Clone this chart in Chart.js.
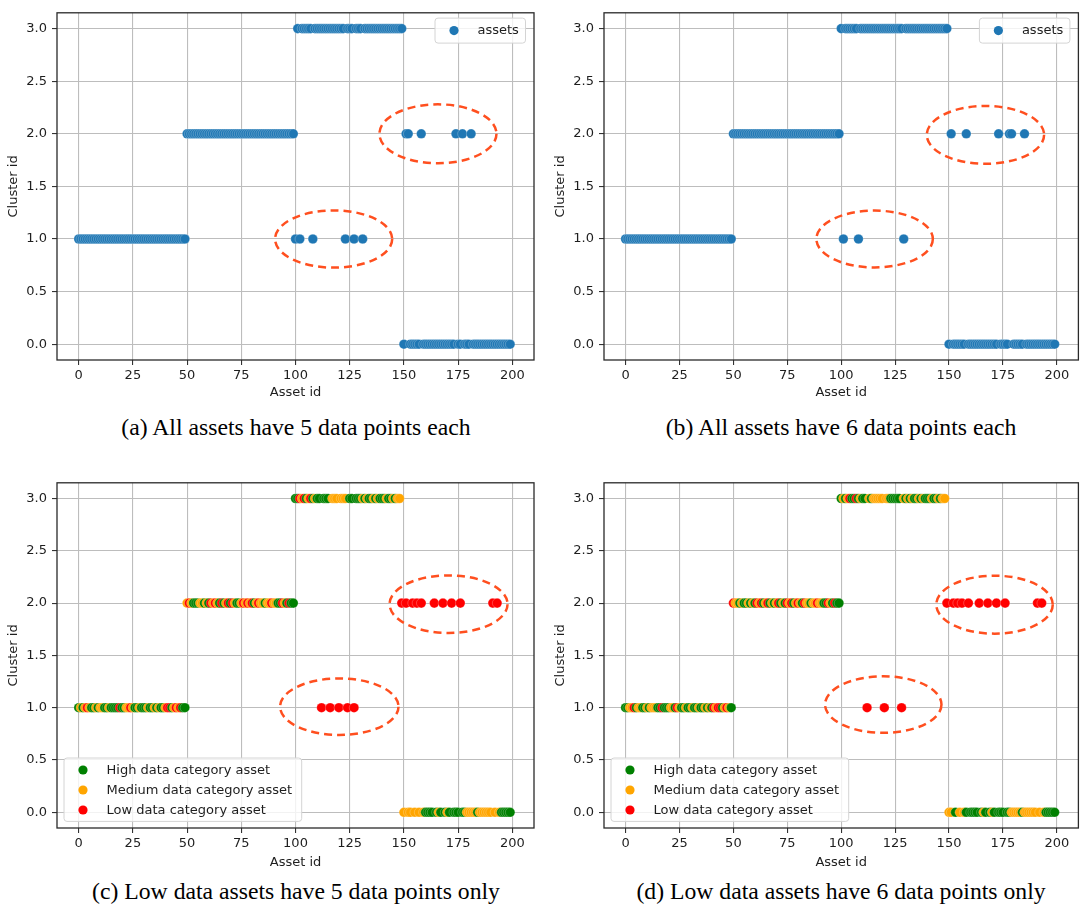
<!DOCTYPE html>
<html>
<head>
<meta charset="utf-8">
<script src="https://cdn.jsdelivr.net/npm/chart.js@4.4.1/dist/chart.umd.min.js"></script>
<style>
html,body{margin:0;padding:0;background:#fff;}
body{width:1084px;height:911px;position:relative;overflow:hidden;}
canvas{position:absolute;}
.cap{position:absolute;width:480px;text-align:center;font-family:"Liberation Serif","Times New Roman",serif;font-size:23.7px;line-height:24px;color:#000;white-space:nowrap;}
</style>
</head>
<body>
<canvas id="ca" width="540" height="405" style="left:0px;top:0px;width:540px;height:405px"></canvas>
<canvas id="cb" width="544" height="405" style="left:540px;top:0px;width:544px;height:405px"></canvas>
<canvas id="cc" width="540" height="405" style="left:0px;top:470px;width:540px;height:405px"></canvas>
<canvas id="cd" width="544" height="405" style="left:540px;top:470px;width:544px;height:405px"></canvas>
<div class="cap" style="left:56px;top:415px">(a) All assets have 5 data points each</div>
<div class="cap" style="left:601px;top:415px">(b) All assets have 6 data points each</div>
<div class="cap" style="left:56px;top:879px">(c) Low data assets have 5 data points only</div>
<div class="cap" style="left:601px;top:879px">(d) Low data assets have 6 data points only</div>
<script>
// ---------------- DATA (index of each entry = asset id 0..199) ----------------
const xTitle = 'Asset id';
const yTitle = 'Cluster id';
const legendAssets = ['assets'];
const legendCategories = ['High data category asset', 'Medium data category asset', 'Low data category asset'];

// (a) cluster id per asset
const clusterA = [
 1,1,1,1,1,1,1,1,1,1, 1,1,1,1,1,1,1,1,1,1, 1,1,1,1,1,1,1,1,1,1, 1,1,1,1,1,1,1,1,1,1, 1,1,1,1,1,1,1,1,1,1,
 2,2,2,2,2,2,2,2,2,2, 2,2,2,2,2,2,2,2,2,2, 2,2,2,2,2,2,2,2,2,2, 2,2,2,2,2,2,2,2,2,2, 2,2,2,2,2,2,2,2,2,2,
 1,3,1,3,3,3,3,3,1,3, 3,3,3,3,3,3,3,3,3,3, 3,3,3,1,3,3,3,1,3,3, 3,1,3,3,3,3,3,3,3,3, 3,3,3,3,3,3,3,3,3,3,
 0,2,2,0,0,0,0,0,2,0, 0,0,0,0,0,0,0,0,0,0, 0,0,0,0,2,0,0,2,0,0, 0,2,0,0,0,0,0,0,0,0, 0,0,0,0,0,0,0,0,0,0
];
// (b) cluster id per asset
const clusterB = [
 1,1,1,1,1,1,1,1,1,1, 1,1,1,1,1,1,1,1,1,1, 1,1,1,1,1,1,1,1,1,1, 1,1,1,1,1,1,1,1,1,1, 1,1,1,1,1,1,1,1,1,1,
 2,2,2,2,2,2,2,2,2,2, 2,2,2,2,2,2,2,2,2,2, 2,2,2,2,2,2,2,2,2,2, 2,2,2,2,2,2,2,2,2,2, 2,2,2,2,2,2,2,2,2,2,
 3,1,3,3,3,3,3,3,1,3, 3,3,3,3,3,3,3,3,3,3, 3,3,3,3,3,3,3,3,3,1, 3,3,3,3,3,3,3,3,3,3, 3,3,3,3,3,3,3,3,3,3,
 0,2,0,0,0,0,0,0,2,0, 0,0,0,0,0,0,0,0,0,0, 0,0,0,2,0,0,0,0,2,2, 0,0,0,0,0,2,0,0,0,0, 0,0,0,0,0,0,0,0,0,0
];
// (c) cluster id per asset
const clusterC = [
 1,1,1,1,1,1,1,1,1,1, 1,1,1,1,1,1,1,1,1,1, 1,1,1,1,1,1,1,1,1,1, 1,1,1,1,1,1,1,1,1,1, 1,1,1,1,1,1,1,1,1,1,
 2,2,2,2,2,2,2,2,2,2, 2,2,2,2,2,2,2,2,2,2, 2,2,2,2,2,2,2,2,2,2, 2,2,2,2,2,2,2,2,2,2, 2,2,2,2,2,2,2,2,2,2,
 3,3,3,3,3,3,3,3,3,3, 3,3,1,3,3,3,1,3,3,3, 1,3,3,3,1,3,3,1,3,3, 3,3,3,3,3,3,3,3,3,3, 3,3,3,3,3,3,3,3,3,2,
 0,2,0,0,2,0,2,0,2,0, 0,0,0,0,2,0,0,0,2,0, 0,0,2,0,0,0,2,0,0,0, 0,0,0,0,0,0,0,0,0,0, 0,2,0,2,0,0,0,0,0,0
];
// (d) cluster id per asset
const clusterD = [
 1,1,1,1,1,1,1,1,1,1, 1,1,1,1,1,1,1,1,1,1, 1,1,1,1,1,1,1,1,1,1, 1,1,1,1,1,1,1,1,1,1, 1,1,1,1,1,1,1,1,1,1,
 2,2,2,2,2,2,2,2,2,2, 2,2,2,2,2,2,2,2,2,2, 2,2,2,2,2,2,2,2,2,2, 2,2,2,2,2,2,2,2,2,2, 2,2,2,2,2,2,2,2,2,2,
 3,3,3,3,3,3,3,3,3,3, 3,3,1,3,3,3,3,3,3,3, 1,3,3,3,3,3,3,3,1,3, 3,3,3,3,3,3,3,3,3,3, 3,3,3,3,3,3,3,3,3,2,
 0,0,2,0,2,0,2,0,0,2, 0,0,0,0,2,0,0,0,2,0, 0,0,2,0,0,0,2,0,0,0, 0,0,0,0,0,0,0,0,0,0, 0,2,0,2,0,0,0,0,0,0
];
// data category per asset (H = high, M = medium, L = low), 10 assets per row
const categoryC = [
 "HMHMLMHHMH","MMHHMHHHHL","HHMMLMHHMH","HHMHHMHMHH","MLLHMLMLHH",
 "MLMHHHMMHM","HLMLMHLHML","HLMHHMLMLM","LHMLMMHMML","MMHHLMHLHH",
 "HHLMLHMLHM","HHLHHHLMMM","LMMMLHHLHH","HMHMHHMHMH","HHMHHMHMML",
 "MLMMLMLMLM","HHHHLHMHLH","MHLHHHLHHM","MMMMHMMMMM","MLMLMHHHHH"
];
const categoryD = [
 "HHMMLHMMHH","MHMMMHHLHH","HMMHLMHHMH","HMHHMHHMHM","HLMLLHMLMH",
 "LMMHMHHMHM","HLMLHMLHMH","MLHMHLMLHM","LMHLMMHMML","MMHHLMHLHH",
 "HMHMLHHLHM","HHLMHMMMMM","LMMHHHHHLM","HMHMHHMHMH","HHMHHMHMML",
 "MMLHLMLMHL","HHHHLHMHLH","MHLHHHLHHM","MMMMHMMMMM","MLMLMHHHHH"
];
// dashed ellipses highlighting the outliers (centre and radii in data units)
const ellipsesA = [{cx:117.6, cy:1.0, rx:27, ry:0.272}, {cx:165.7, cy:2.0, rx:27, ry:0.28}];
const ellipsesB = [{cx:115.5, cy:1.0, rx:27, ry:0.27}, {cx:166.9, cy:1.99, rx:27.2, ry:0.275}];
const ellipsesC = [{cx:120.2, cy:1.01, rx:27.3, ry:0.27}, {cx:170.6, cy:1.99, rx:27.2, ry:0.275}];
const ellipsesD = [{cx:119.5, cy:1.03, rx:27, ry:0.27}, {cx:171.1, cy:1.985, rx:27, ry:0.277}];

// ---------------- STYLE ----------------
const BLUE = '#1f77b4';
const CAT_COLORS = {H:'#008000', M:'#ffa500', L:'#ff0000'};
const FONT = {family:'"DejaVu Sans", sans-serif', size:13};
const TEXT = '#1e1e1e';

function catOf(rows, id){ return rows[Math.floor(id/10)][id%10]; }

const overlayPlugin = {
  id: 'overlay',
  afterDatasetsDraw(chart, args, o){
    const ctx = chart.ctx, a = chart.chartArea, xs = chart.scales.x, ys = chart.scales.y;
    ctx.save();
    ctx.strokeStyle = '#ff4f1f'; ctx.lineWidth = 2.5; ctx.setLineDash([8,5]);
    (o.ellipses || []).forEach(e => {
      const cx = xs.getPixelForValue(e.cx), cy = ys.getPixelForValue(e.cy);
      const rx = Math.abs(xs.getPixelForValue(e.cx + e.rx) - cx);
      const ry = Math.abs(ys.getPixelForValue(e.cy + e.ry) - cy);
      ctx.beginPath(); ctx.ellipse(cx, cy, rx, ry, 0, 0, Math.PI*2); ctx.stroke();
    });
    ctx.restore();
    ctx.save(); ctx.strokeStyle = '#2a2a2a'; ctx.lineWidth = 1.3;
    ctx.strokeRect(a.left, a.top, a.right - a.left, a.bottom - a.top); ctx.restore();
    const L = o.legend; if (!L) return;
    let left, top;
    if (L.corner === 'tr') { left = a.right - L.dx - L.w; top = a.top + L.dy; }
    else { left = a.left + L.dx; top = a.bottom - L.dy - L.h; }
    ctx.save();
    ctx.beginPath();
    if (ctx.roundRect) ctx.roundRect(left, top, L.w, L.h, 3); else ctx.rect(left, top, L.w, L.h);
    ctx.fillStyle = 'rgba(255,255,255,0.8)'; ctx.fill();
    ctx.strokeStyle = '#d4d4d4'; ctx.lineWidth = 1; ctx.stroke();
    ctx.font = '13px "DejaVu Sans", sans-serif'; ctx.textBaseline = 'middle'; ctx.textAlign = 'left';
    L.items.forEach((it, i) => {
      const y = top + L.row0 + 20*i;
      ctx.beginPath(); ctx.arc(left + 19, y, 4.6, 0, Math.PI*2); ctx.fillStyle = it.color; ctx.fill();
      ctx.fillStyle = TEXT; ctx.fillText(it.label, left + 42.5, y + 0.5);
    });
    ctx.restore();
  }
};

function makeChart(id, clusters, colorFn, geom, ellipses, legend){
  const pts = clusters.map((c, i) => ({x: i, y: c}));
  const colors = clusters.map((c, i) => colorFn(i));
  new Chart(document.getElementById(id), {
    type: 'scatter',
    data: { datasets: [{ label: 'assets', data: pts, backgroundColor: colors,
      borderColor: 'rgba(255,255,255,0.3)', borderWidth: 0.8, pointRadius: 4.8, pointHoverRadius: 4.8 }] },
    options: {
      responsive: false, animation: false, events: [],
      layout: { padding: { top: geom.padTop, right: geom.padRight, left: 0, bottom: 0 } },
      plugins: { legend: {display:false}, tooltip: {enabled:false},
        overlay: { ellipses: ellipses, legend: legend } },
      scales: {
        x: { type: 'linear', min: -10, max: 210,
          afterFit: s => { s.height = geom.xHeight; },
          ticks: { stepSize: 25, includeBounds: false, autoSkip: false, maxRotation: 0,
            font: FONT, color: TEXT, padding: 3 },
          grid: { color: '#bdbdbd', lineWidth: 1.1, tickColor: '#333', tickLength: 5 },
          border: { display: false },
          title: { display: true, text: xTitle, font: FONT, color: TEXT, padding: {top: 0, bottom: 5} } },
        y: { type: 'linear', min: -0.15, max: 3.15,
          afterFit: s => { s.width = geom.yWidth; },
          ticks: { stepSize: 0.5, includeBounds: false, autoSkip: false,
            callback: v => Number(v).toFixed(1), font: FONT, color: TEXT, padding: 5 },
          grid: { color: '#bdbdbd', lineWidth: 1.1, tickColor: '#333', tickLength: 5 },
          border: { display: false },
          title: { display: true, text: yTitle, font: FONT, color: TEXT, padding: {top: geom.yTitlePad, bottom: 0} } }
      }
    },
    plugins: [overlayPlugin]
  });
}

const geomLeftTop  = {padTop: 8, padRight: 6, xHeight: 45, yWidth: 57, yTitlePad: 6};
const geomRightTop = {padTop: 8, padRight: 4, xHeight: 45, yWidth: 64, yTitlePad: 13};
const geomLeftBot  = {padTop: 7, padRight: 6, xHeight: 47, yWidth: 57, yTitlePad: 6};
const geomRightBot = {padTop: 7, padRight: 4, xHeight: 47, yWidth: 64, yTitlePad: 13};

const legendBlue = {corner: 'tr', dx: 8.5, dy: 5.3, w: 90.5, h: 25, row0: 12.5,
  items: legendAssets.map(l => ({label: l, color: BLUE}))};
const legendCat = {corner: 'bl', dx: 7, dy: 6.6, w: 237.7, h: 63.4, row0: 12,
  items: legendCategories.map((l, i) => ({label: l, color: CAT_COLORS['HML'[i]]}))};

makeChart('ca', clusterA, () => BLUE, geomLeftTop, ellipsesA, legendBlue);
makeChart('cb', clusterB, () => BLUE, geomRightTop, ellipsesB, legendBlue);
makeChart('cc', clusterC, i => CAT_COLORS[catOf(categoryC, i)], geomLeftBot, ellipsesC, legendCat);
makeChart('cd', clusterD, i => CAT_COLORS[catOf(categoryD, i)], geomRightBot, ellipsesD, legendCat);
</script>
</body>
</html>
